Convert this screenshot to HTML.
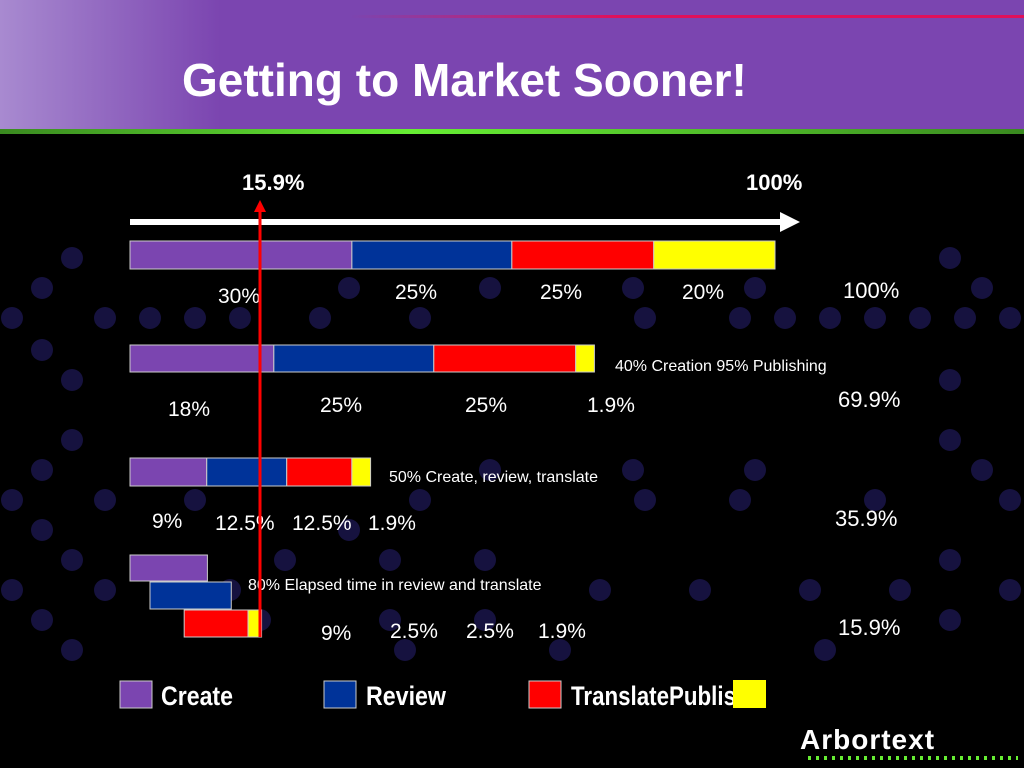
<!DOCTYPE html>
<html><head><meta charset="utf-8"><style>
body{margin:0;width:1024px;height:768px;background:#000;overflow:hidden;font-family:"Liberation Sans",Arial,sans-serif;position:relative}
.t{position:absolute;color:#fff;white-space:nowrap}
</style></head><body>
<div style="position:absolute;left:0;top:0;width:1024px;height:129px;background:#7b45b0"></div>
<div style="position:absolute;left:0;top:0;width:220px;height:129px;background:linear-gradient(90deg,#a88ad0,#7b45b0)"></div>
<div style="position:absolute;left:350px;top:15px;width:674px;height:3px;background:linear-gradient(90deg,#7b45b0,#e0105a 40%,#e0105a)"></div>
<div style="position:absolute;left:0;top:129px;width:1024px;height:5px;background:linear-gradient(90deg,#3a8a20,#66ee33 40%,#3a8a20)"></div>
<div class="t" style="left:182px;top:53px;font-size:46px;font-weight:bold;">Getting to Market Sooner!</div>
<svg id="c" width="1024" height="768" style="position:absolute;left:0;top:0"></svg>
<div class="t" style="left:800px;top:724px;font-size:28px;font-weight:bold;letter-spacing:1px">Arbortext</div>
<div style="position:absolute;left:808px;top:756px;width:210px;height:4px;background:repeating-linear-gradient(90deg,#66ee33 0 3px,transparent 3px 8px)"></div>
<script>
const NS="http://www.w3.org/2000/svg";
const svg=document.getElementById('c');
function mk(t,a,p){const e=document.createElementNS(NS,t);for(const k in a)e.setAttribute(k,a[k]);(p||svg).appendChild(e);return e;}
// data
const categories=["Create","Review","Translate","Publish"];
const colors=["#7b45b0","#003399","#ff0000","#ffff00"];
const row1=[34.4,24.8,22,18.8];
const row2=[22.3,24.8,22,2.9];
const row3=[11.9,12.4,10.1,2.9];
const totals=["100%","69.9%","35.9%","15.9%"];
const row1Labels=["30%","25%","25%","20%"];
const row2Labels=["18%","25%","25%","1.9%"];
const row3Labels=["9%","12.5%","12.5%","1.9%"];
const row4Labels=["9%","2.5%","2.5%","1.9%"];
const x0=130,pxPerUnit=6.45;
const xs=v=>x0+v*pxPerUnit;
// background dots
const dots=[[72,258],[950,258],[42,288],[349,288],[490,288],[633,288],[755,288],[982,288],[12,318],[105,318],[150,318],[195,318],[240,318],[320,318],[420,318],[645,318],[740,318],[785,318],[830,318],[875,318],[920,318],[965,318],[1010,318],[42,350],[72,380],[950,380],[72,440],[950,440],[42,470],[349,470],[490,470],[633,470],[755,470],[982,470],[12,500],[105,500],[195,500],[420,500],[645,500],[740,500],[875,500],[1010,500],[42,530],[349,530],[72,560],[285,560],[390,560],[485,560],[950,560],[12,590],[105,590],[230,590],[600,590],[700,590],[810,590],[900,590],[1010,590],[42,620],[260,620],[390,620],[485,620],[950,620],[72,650],[405,650],[560,650],[825,650]];
dots.forEach(d=>{const c=mk('circle',{cx:d[0],cy:d[1],r:11,fill:'#16123f'});

});
function text(x,y,s,size,name,bold){const t=mk('text',{x:x,y:y,fill:'#fff','font-size':size,'font-family':'Liberation Sans, Arial, sans-serif','font-weight':bold?'bold':'normal'});t.textContent=s;

return t;}
function bar(vals,y,h,name){let x=0;vals.forEach((v,i)=>{const r=mk('rect',{x:xs(x),y:y,width:v*pxPerUnit,height:h,fill:colors[i],stroke:'#ccc','stroke-width':1});

x+=v;});}
// white arrow
const wa=mk('line',{x1:130,y1:222,x2:785,y2:222,stroke:'#fff','stroke-width':6});


const wh=mk('polygon',{points:'780,212 800,222 780,232',fill:'#fff'});


text(242,190,'15.9%',22,'start-label',true);
text(746,190,'100%',22,'end-label',true);
bar(row1,241,28,'bar-row1');
bar(row2,345,27,'bar-row2');
bar(row3,458,28,'bar-row3');
// row4 staggered
const r4=[[0,12,555,26],[3.1,12.6,582,27],[8.4,9.9,610,27],[18.3,2.1,610,27]];
r4.forEach((s,i)=>{const r=mk('rect',{x:xs(s[0]),y:s[2],width:s[1]*pxPerUnit,height:s[3],fill:colors[i],stroke:'#ccc','stroke-width':1});

});
// labels
const lx1=[218,395,540,682],lx2=[168,320,465,587],lx3=[152,215,292,368],lx4=[321,390,466,538];
row1Labels.forEach((s,i)=>text(lx1[i],i?299:303,s,21,'row1-label'));
row2Labels.forEach((s,i)=>text(lx2[i],i?412:416,s,21,'row2-label'));
row3Labels.forEach((s,i)=>text(lx3[i],i?530:528,s,21,'row3-label'));
row4Labels.forEach((s,i)=>text(lx4[i],i==0?640:638,s,21,'row4-label'));
const ty=[298,407,526,635],tx=[843,838,835,838];
totals.forEach((s,i)=>text(tx[i],ty[i],s,22,'total-label'));
text(615,371,'40% Creation 95% Publishing',16,'row2-note');
text(389,482,'50%  Create, review, translate',16,'row3-note');
text(248,590,'80%  Elapsed time in review and translate',16,'row4-note');
// red line
const rl=mk('line',{x1:260,y1:210,x2:260,y2:637,stroke:'#ff0000','stroke-width':3});


const rh=mk('polygon',{points:'254,212 260,200 266,212',fill:'#ff0000'});


// legend
const lgx=[120,324,529,733],lgt=["Create","Review","TranslatePublis",""],ltx=[161,366,571];
categories.forEach((c,i)=>{const r=mk('rect',{x:lgx[i],y:i==3?680:681,width:i==3?33:32,height:i==3?28:27,fill:colors[i],stroke:i==3?'none':'#ccc','stroke-width':1});


if(lgt[i]){const t=text(ltx[i],705,lgt[i],27,'legend-label',true);t.setAttribute('textLength',[72,80,165][i]);t.setAttribute('lengthAdjust','spacingAndGlyphs');}});
const ys=mk('rect',{x:733,y:680,width:33,height:28,fill:'#ffff00'});


</script>
</body></html>
